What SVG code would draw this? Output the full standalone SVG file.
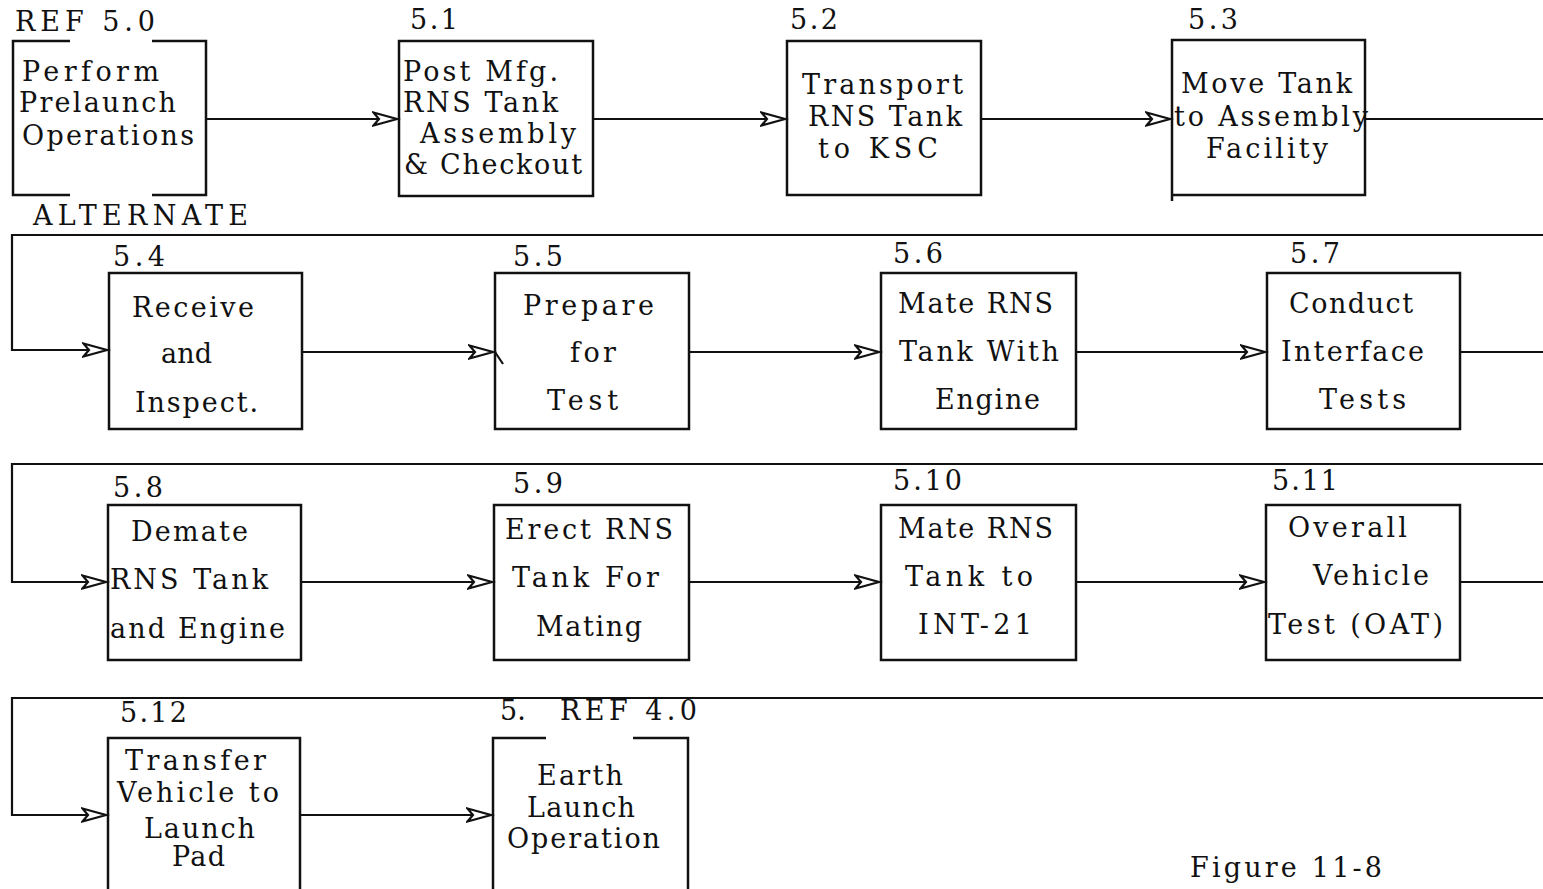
<svg xmlns="http://www.w3.org/2000/svg" width="1543" height="889" viewBox="0 0 1543 889">
<style>
text{font-family:"DejaVu Serif","Liberation Serif",serif;font-size:27px;fill:#111;}
.box{fill:none;stroke:#111;stroke-width:2.5;}
.ln{fill:none;stroke:#111;stroke-width:2.2;}
</style>
<defs>
<marker id="ah" markerUnits="userSpaceOnUse" markerWidth="30" markerHeight="18" refX="25" refY="8" orient="auto">
<path d="M1.5,1.5 L25,8 L1.5,14.5 L7,8 Z" fill="#fff" stroke="#111" stroke-width="2.2" stroke-linejoin="miter"/>
</marker>
</defs>
<rect width="1543" height="889" fill="#fff"/>
<g id="connectors">
<path class="ln" d="M206,119 H397" marker-end="url(#ah)"/>
<path class="ln" d="M593,119 H785" marker-end="url(#ah)"/>
<path class="ln" d="M981,119 H1170" marker-end="url(#ah)"/>
<path class="ln" d="M1365,119 H1543"/>
<path class="ln" d="M1543,235 H12 V350 H107" marker-end="url(#ah)"/>
<path class="ln" d="M302,352 H493" marker-end="url(#ah)"/>
<path class="ln" d="M689,352 H879" marker-end="url(#ah)"/>
<path class="ln" d="M1076,352 H1265" marker-end="url(#ah)"/>
<path class="ln" d="M1460,352 H1543"/>
<path class="ln" d="M1543,464 H12 V582 H106" marker-end="url(#ah)"/>
<path class="ln" d="M301,582 H492" marker-end="url(#ah)"/>
<path class="ln" d="M689,582 H879" marker-end="url(#ah)"/>
<path class="ln" d="M1076,582 H1264" marker-end="url(#ah)"/>
<path class="ln" d="M1460,582 H1543"/>
<path class="ln" d="M1543,698 H12 V815 H106" marker-end="url(#ah)"/>
<path class="ln" d="M300,815 H491" marker-end="url(#ah)"/>
</g>
<g id="n50">
<path class="box" d="M70,41 H13 V195 H70 M152,195 H206 V41 H152"/>
<text x="15" y="31" textLength="140" lengthAdjust="spacing">REF 5.0</text>
<text x="22" y="81" textLength="137" lengthAdjust="spacing">Perform</text>
<text x="19" y="112" textLength="157" lengthAdjust="spacing">Prelaunch</text>
<text x="22" y="145" textLength="172" lengthAdjust="spacing">Operations</text>
</g>
<g id="n51">
<rect class="box" x="399" y="41" width="194" height="155"/>
<text x="410" y="29" textLength="48" lengthAdjust="spacing">5.1</text>
<text x="403" y="81" textLength="155" lengthAdjust="spacing">Post Mfg.</text>
<text x="403" y="112" textLength="155" lengthAdjust="spacing">RNS Tank</text>
<text x="420" y="143" textLength="156" lengthAdjust="spacing">Assembly</text>
<text x="404" y="174" textLength="178" lengthAdjust="spacing">&amp; Checkout</text>
</g>
<g id="n52">
<rect class="box" x="787" y="41" width="194" height="154"/>
<text x="790" y="29" textLength="48" lengthAdjust="spacing">5.2</text>
<text x="802" y="94" textLength="161" lengthAdjust="spacing">Transport</text>
<text x="808" y="126" textLength="154" lengthAdjust="spacing">RNS Tank</text>
<text x="818" y="158" textLength="120" lengthAdjust="spacing">to KSC</text>
</g>
<g id="n53">
<path class="box" d="M1172,201 V40 H1365 V195 H1172"/>
<text x="1188" y="29" textLength="50" lengthAdjust="spacing">5.3</text>
<text x="1181" y="93" textLength="171" lengthAdjust="spacing">Move Tank</text>
<text x="1174" y="126" textLength="194" lengthAdjust="spacing">to Assembly</text>
<text x="1206" y="158" textLength="122" lengthAdjust="spacing">Facility</text>
</g>
<text x="33" y="225" textLength="215" lengthAdjust="spacing">ALTERNATE</text>
<g id="n54">
<rect class="box" x="109" y="273" width="193" height="156"/>
<text x="113" y="266" textLength="52" lengthAdjust="spacing">5.4</text>
<text x="132" y="317" textLength="122" lengthAdjust="spacing">Receive</text>
<text x="161" y="363" textLength="51" lengthAdjust="spacing">and</text>
<text x="135" y="412" textLength="123" lengthAdjust="spacing">Inspect.</text>
</g>
<g id="n55">
<rect class="box" x="495" y="273" width="194" height="156"/>
<path class="ln" d="M495,352 L503,364"/>
<text x="513" y="266" textLength="50" lengthAdjust="spacing">5.5</text>
<text x="523" y="315" textLength="131" lengthAdjust="spacing">Prepare</text>
<text x="570" y="362" textLength="46" lengthAdjust="spacing">for</text>
<text x="547" y="410" textLength="71" lengthAdjust="spacing">Test</text>
</g>
<g id="n56">
<rect class="box" x="881" y="273" width="195" height="156"/>
<text x="893" y="263" textLength="50" lengthAdjust="spacing">5.6</text>
<text x="898" y="313" textLength="155" lengthAdjust="spacing">Mate RNS</text>
<text x="899" y="361" textLength="160" lengthAdjust="spacing">Tank With</text>
<text x="935" y="409" textLength="105" lengthAdjust="spacing">Engine</text>
</g>
<g id="n57">
<rect class="box" x="1267" y="273" width="193" height="156"/>
<text x="1290" y="263" textLength="50" lengthAdjust="spacing">5.7</text>
<text x="1289" y="313" textLength="124" lengthAdjust="spacing">Conduct</text>
<text x="1281" y="361" textLength="143" lengthAdjust="spacing">Interface</text>
<text x="1319" y="409" textLength="87" lengthAdjust="spacing">Tests</text>
</g>
<g id="n58">
<rect class="box" x="108" y="505" width="193" height="155"/>
<text x="113" y="497" textLength="50" lengthAdjust="spacing">5.8</text>
<text x="131" y="541" textLength="117" lengthAdjust="spacing">Demate</text>
<text x="110" y="589" textLength="158" lengthAdjust="spacing">RNS Tank</text>
<text x="110" y="638" textLength="175" lengthAdjust="spacing">and Engine</text>
</g>
<g id="n59">
<rect class="box" x="494" y="505" width="195" height="155"/>
<text x="513" y="493" textLength="50" lengthAdjust="spacing">5.9</text>
<text x="505" y="539" textLength="168" lengthAdjust="spacing">Erect RNS</text>
<text x="512" y="587" textLength="147" lengthAdjust="spacing">Tank For</text>
<text x="536" y="636" textLength="106" lengthAdjust="spacing">Mating</text>
</g>
<g id="n510">
<rect class="box" x="881" y="505" width="195" height="155"/>
<text x="893" y="490" textLength="69" lengthAdjust="spacing">5.10</text>
<text x="898" y="538" textLength="155" lengthAdjust="spacing">Mate RNS</text>
<text x="905" y="586" textLength="128" lengthAdjust="spacing">Tank to</text>
<text x="918" y="634" textLength="114" lengthAdjust="spacing">INT-21</text>
</g>
<g id="n511">
<rect class="box" x="1266" y="505" width="194" height="155"/>
<text x="1272" y="490" textLength="66" lengthAdjust="spacing">5.11</text>
<text x="1288" y="537" textLength="119" lengthAdjust="spacing">Overall</text>
<text x="1313" y="585" textLength="116" lengthAdjust="spacing">Vehicle</text>
<text x="1268" y="634" textLength="175" lengthAdjust="spacing">Test (OAT)</text>
</g>
<g id="n512">
<path class="box" d="M108,890 V738 H300 V890"/>
<text x="120" y="722" textLength="67" lengthAdjust="spacing">5.12</text>
<text x="125" y="770" textLength="141" lengthAdjust="spacing">Transfer</text>
<text x="117" y="802" textLength="162" lengthAdjust="spacing">Vehicle to</text>
<text x="144" y="838" textLength="111" lengthAdjust="spacing">Launch</text>
<text x="172" y="866" textLength="53" lengthAdjust="spacing">Pad</text>
</g>
<g id="n40">
<path class="box" d="M493,890 V738 H546 M633,738 H688 V890"/>
<text x="500" y="720">5.</text>
<text x="560" y="720" textLength="137" lengthAdjust="spacing">REF 4.0</text>
<text x="537" y="785" textLength="86" lengthAdjust="spacing">Earth</text>
<text x="527" y="817" textLength="108" lengthAdjust="spacing">Launch</text>
<text x="507" y="848" textLength="153" lengthAdjust="spacing">Operation</text>
</g>
<text x="1190" y="877" textLength="192" lengthAdjust="spacing">Figure 11-8</text>
</svg>
